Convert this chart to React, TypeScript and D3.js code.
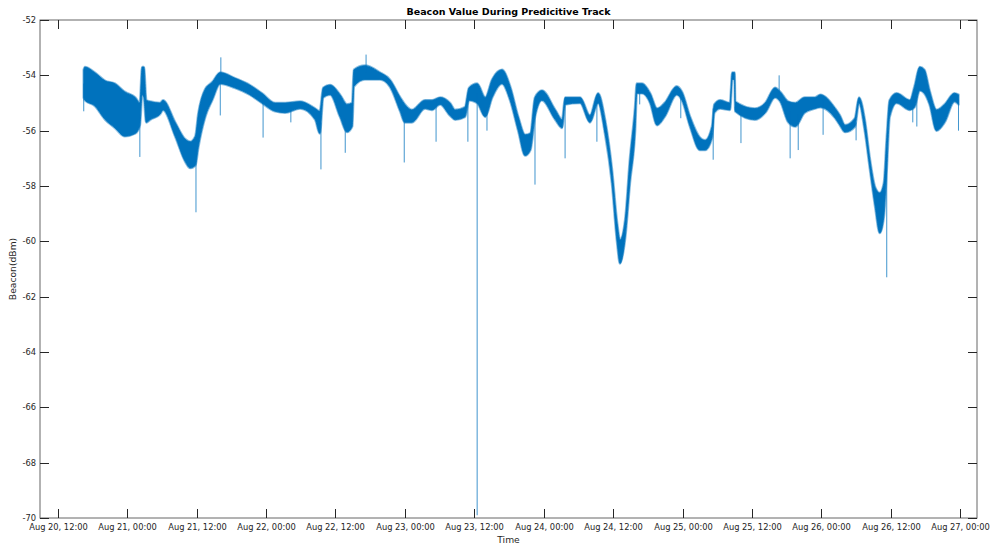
import React from "react";
import * as d3 from "d3";

// beacon trace envelope: [hours since Aug 20 00:00, upper dBm, lower dBm]
const band: [number, number, number][] = [
  [16.5, -53.8, -54.8], [16.7, -53.7, -54.9], [18.4, -53.9, -55.1], [20.2, -54.2, -55.6],
  [21.9, -54.3, -55.9], [23.6, -54.6, -56.2], [25.4, -54.8, -56.1], [26.2, -55.0, -55.8],
  [26.6, -53.7, -54.7], [26.9, -53.7, -54.8], [27.3, -54.9, -55.7], [28.0, -54.95, -55.6],
  [29.7, -55.0, -55.4], [30.2, -54.9, -55.25], [32.3, -55.7, -56.2], [34.0, -56.3, -57.1],
  [34.9, -56.4, -57.35], [35.8, -56.2, -57.25], [36.3, -55.4, -56.6], [37.5, -54.5, -55.5],
  [38.7, -54.25, -54.9], [40.1, -53.9, -54.3], [42.6, -54.1, -54.45], [45.2, -54.35, -54.7],
  [47.3, -54.65, -55.0], [49.6, -55.0, -55.3], [51.3, -55.0, -55.35], [53.9, -54.95, -55.2],
  [56.5, -55.2, -55.6], [57.3, -55.3, -56.1], [57.9, -54.45, -54.8], [59.1, -54.35, -54.7],
  [60.8, -54.7, -55.5], [62.0, -55.05, -56.05], [62.9, -55.0, -55.85], [63.2, -53.8, -54.4],
  [65.1, -53.65, -54.15], [67.7, -53.9, -54.15], [69.4, -54.15, -54.4], [71.2, -54.8, -55.3],
  [72.0, -55.05, -55.7], [73.2, -55.25, -55.7], [75.5, -54.9, -55.2], [76.7, -54.9, -55.25],
  [78.1, -54.8, -55.05], [79.8, -55.0, -55.45], [80.7, -55.25, -55.6], [82.4, -55.15, -55.5],
  [83.1, -54.45, -54.9], [84.5, -54.3, -55.0], [85.9, -54.8, -55.5], [87.1, -54.15, -54.8],
  [88.8, -53.8, -54.3], [90.2, -54.4, -54.9], [91.6, -55.5, -56.0], [92.8, -56.15, -56.9],
  [93.7, -56.1, -56.7], [94.5, -54.8, -55.5], [95.7, -54.55, -54.9], [98.0, -55.25, -55.6],
  [99.2, -55.6, -55.9], [99.7, -54.8, -55.05], [102.3, -54.8, -55.0], [104.0, -55.45, -55.7],
  [105.4, -54.65, -55.0], [106.6, -55.6, -56.1], [107.8, -57.4, -57.9], [108.7, -59.35, -60.05],
  [109.2, -59.95, -60.8], [110.1, -59.2, -59.85], [110.9, -57.05, -57.9], [111.8, -55.15, -56.0],
  [112.1, -54.3, -54.65], [113.0, -54.3, -54.65], [114.4, -54.65, -55.0], [115.6, -55.2, -55.8],
  [116.9, -55.0, -55.5], [119.0, -54.4, -54.7], [119.9, -54.6, -54.9], [121.3, -55.5, -55.85],
  [123.0, -56.25, -56.7], [123.9, -56.35, -56.7], [125.1, -55.85, -56.25], [125.5, -55.05, -55.35],
  [126.5, -54.9, -55.2], [128.2, -55.0, -55.25], [128.6, -53.9, -54.15], [129.0, -53.9, -54.15],
  [129.1, -54.95, -55.3], [132.5, -55.2, -55.6], [134.3, -55.0, -55.35], [136.0, -54.45, -54.8],
  [136.9, -54.6, -54.95], [138.3, -54.95, -55.7], [139.5, -55.0, -55.85], [141.1, -54.8, -55.35],
  [142.9, -54.8, -55.2], [143.8, -54.7, -55.15], [146.4, -55.2, -55.55], [147.2, -55.45, -55.8],
  [148.1, -55.8, -56.05], [149.8, -55.55, -55.85], [150.5, -54.8, -55.0], [151.5, -55.6, -56.0],
  [152.4, -57.05, -57.4], [153.3, -58.05, -58.75], [154.1, -58.25, -59.7], [154.8, -57.9, -59.1],
  [155.3, -56.25, -57.4], [155.8, -54.9, -55.5], [157.0, -54.65, -55.0], [159.3, -54.9, -55.25],
  [160.1, -54.4, -55.15], [161.0, -53.7, -54.55], [161.8, -53.8, -54.65], [162.7, -54.55, -55.05],
  [163.9, -55.25, -56.0], [165.3, -55.05, -55.7], [167.0, -54.65, -54.95], [167.7, -54.7, -55.05],
];

// single-sample outliers: [hours, dBm]
const spikes: [number, number][] = [
  [16.5, -55.3], [26.2, -56.95], [35.9, -58.95], [40.1, -55.45], [40.2, -53.35],
  [47.5, -56.25], [52.3, -55.7], [57.5, -57.4], [61.7, -56.8], [65.3, -53.25],
  [71.9, -57.15], [77.4, -56.4], [82.9, -56.4], [84.5, -69.9], [86.2, -56.0],
  [94.5, -57.95], [99.7, -57.0], [105.2, -56.4], [112.6, -55.05], [119.7, -55.55],
  [125.3, -57.05], [129.1, -55.25], [130.1, -56.45], [136.7, -54.0], [138.6, -57.0],
  [140.0, -56.7], [144.3, -56.15], [150.0, -56.35], [155.3, -61.3], [159.8, -55.7],
  [160.5, -55.85], [167.7, -56.0],
];

const xTickHours = [12, 24, 36, 48, 60, 72, 84, 96, 108, 120, 132, 144, 156, 168];
const xTickLabels = [
  "Aug 20, 12:00", "Aug 21, 00:00", "Aug 21, 12:00", "Aug 22, 00:00", "Aug 22, 12:00",
  "Aug 23, 00:00", "Aug 23, 12:00", "Aug 24, 00:00", "Aug 24, 12:00", "Aug 25, 00:00",
  "Aug 25, 12:00", "Aug 26, 00:00", "Aug 26, 12:00", "Aug 27, 00:00",
];
const yTicks = [-70, -68, -66, -64, -62, -60, -58, -56, -54, -52];

const start = new Date(2019, 7, 20);
const t = (h: number) => new Date(start.getTime() + h * 3600e3);

export default function App() {
  const W = 995, H = 548;
  const m = { top: 20, right: 18, bottom: 30, left: 40 };
  const x = d3.scaleTime().domain([t(8.94), t(170.9)]).range([m.left, W - m.right]);
  const y = d3.scaleLinear().domain([-70, -52]).range([H - m.bottom, m.top]);
  const blue = "#0072BD";
  const axis = "#262626";
  const font = "'DejaVu Sans', sans-serif";
  const tick = 9;

  const area = d3.area<[number, number, number]>()
    .curve(d3.curveMonotoneX)
    .x(d => x(t(d[0])))
    .y0(d => y(d[2]))
    .y1(d => y(d[1]));

  const near = d3.bisector((d: [number, number, number]) => d[0]);
  const bandPath = area(band) || "";

  const x0 = m.left, x1 = W - m.right, y0 = m.top, y1 = H - m.bottom;

  return (
    <svg width={W} height={H} style={{ position: "absolute", left: 0, top: 0, background: "#fff" }}>
      <rect x={0} y={0} width={W} height={H} fill="#fff" />
      {/* soft fringe for the measurement noise */}
      <path d={bandPath} fill="none" stroke={blue} strokeOpacity={0.45} strokeWidth={2.6} strokeLinejoin="round" />
      <path d={bandPath} fill={blue} stroke={blue} strokeWidth={0.8} strokeLinejoin="round" />
      {spikes.map(([h, v], i) => {
        const b = band[near.center(band, h)];
        return (
          <line key={i} x1={x(t(h))} x2={x(t(h))} y1={y((b[1] + b[2]) / 2)} y2={y(v)}
            stroke={blue} strokeOpacity={0.75} strokeWidth={1} />
        );
      })}

      {/* box */}
      <rect x={x0} y={y0} width={x1 - x0} height={y1 - y0} fill="none" stroke={axis} strokeOpacity={0.7} strokeWidth={1} />

      {xTickHours.map((h, i) => {
        const px = Math.round(x(t(h))) + 0.5;
        return (
          <g key={h}>
            <line x1={px} x2={px} y1={y1} y2={y1 - tick} stroke={axis} />
            <line x1={px} x2={px} y1={y0} y2={y0 + tick} stroke={axis} />
            <text x={px} y={y1 + 12} textAnchor="middle" fontFamily={font} fontSize={8.3} fill={axis}>
              {xTickLabels[i]}
            </text>
          </g>
        );
      })}
      {yTicks.map(v => {
        const py = Math.round(y(v)) + 0.5;
        return (
          <g key={v}>
            <line x1={x0} x2={x0 + tick} y1={py} y2={py} stroke={axis} />
            <line x1={x1} x2={x1 - tick} y1={py} y2={py} stroke={axis} />
            <text x={x0 - 4} y={py} dy="0.35em" textAnchor="end" fontFamily={font} fontSize={8.3} fill={axis}>
              {String(v)}
            </text>
          </g>
        );
      })}

      <text x={(x0 + x1) / 2} y={15} textAnchor="middle" fontFamily={font} fontSize={9.5} fontWeight="bold" fill="#000">
        Beacon Value During Predicitive Track
      </text>
      <text x={(x0 + x1) / 2} y={543} textAnchor="middle" fontFamily={font} fontSize={9.2} fill={axis}>
        Time
      </text>
      <text transform={`translate(16,${(y0 + y1) / 2}) rotate(-90)`} textAnchor="middle" fontFamily={font} fontSize={9.2} fill={axis}>
        Beacon(dBm)
      </text>
    </svg>
  );
}
